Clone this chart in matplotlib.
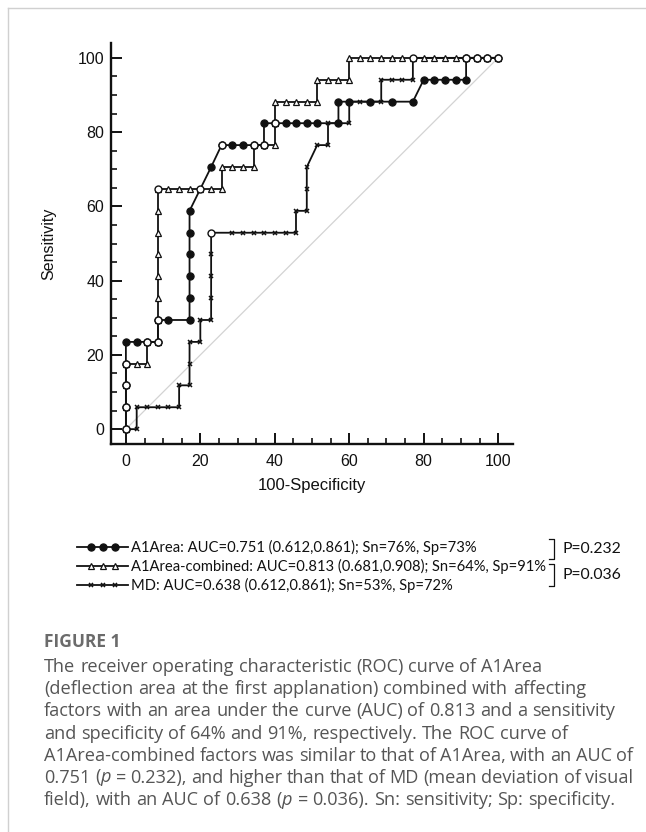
import matplotlib
matplotlib.use("Agg")
import matplotlib.pyplot as plt
from matplotlib.lines import Line2D

W, H, DPI = 646, 832, 100

# ---------------- data (percent) ----------------
a1_x = [0, 0, 0, 0, 0, 2.9, 5.7, 8.6, 8.6, 11.4, 17.1, 17.1, 17.1, 17.1, 17.1, 17.1,
        22.9, 25.7, 28.6, 31.4, 34.3, 37.1, 37.1, 40.0, 42.9, 45.7, 48.6, 51.4, 57.1,
        57.1, 60.0, 65.7, 71.4, 77.1, 80.0, 82.9, 85.7, 88.6, 91.4, 91.4, 94.3, 97.1, 100]
a1_y = [0, 5.9, 11.8, 17.6, 23.5, 23.5, 23.5, 23.5, 29.4, 29.4, 29.4, 35.3, 41.2, 47.1, 52.9, 58.8,
        70.6, 76.5, 76.5, 76.5, 76.5, 76.5, 82.4, 82.4, 82.4, 82.4, 82.4, 82.4, 82.4,
        88.2, 88.2, 88.2, 88.2, 88.2, 94.1, 94.1, 94.1, 94.1, 94.1, 100, 100, 100, 100]

comb_x = [0, 0, 0, 0, 2.9, 5.7, 5.7, 8.6, 8.6, 8.6, 8.6, 8.6, 8.6, 8.6, 8.6,
          11.4, 14.3, 17.1, 20.0, 22.9, 25.7, 25.7, 28.6, 31.4, 34.3, 34.3, 37.1, 40.0,
          40.0, 40.0, 42.9, 45.7, 48.6, 51.4, 51.4, 54.3, 57.1, 60.0, 60.0,
          62.9, 65.7, 68.6, 71.4, 74.3, 77.1, 80.0, 82.9, 85.7, 88.6, 91.4, 94.3, 97.1, 100]
comb_y = [0, 5.9, 11.8, 17.6, 17.6, 17.6, 23.5, 23.5, 29.4, 35.3, 41.2, 47.1, 52.9, 58.8, 64.7,
          64.7, 64.7, 64.7, 64.7, 64.7, 64.7, 70.6, 70.6, 70.6, 70.6, 76.5, 76.5, 76.5,
          82.4, 88.2, 88.2, 88.2, 88.2, 88.2, 94.1, 94.1, 94.1, 94.1, 100,
          100, 100, 100, 100, 100, 100, 100, 100, 100, 100, 100, 100, 100, 100]

md_x = [0, 2.9, 2.9, 5.7, 8.6, 11.4, 14.3, 14.3, 17.1, 17.1, 17.1, 20.0, 20.0, 22.9,
        22.9, 22.9, 22.9, 22.9, 28.6, 31.4, 34.3, 37.1, 40.0, 42.9, 45.7, 45.7, 48.6,
        48.6, 48.6, 51.4, 54.3, 54.3, 60.0, 60.0, 62.9, 68.6, 68.6, 71.4, 74.3, 77.1, 77.1, 100]
md_y = [0, 0, 5.9, 5.9, 5.9, 5.9, 5.9, 11.8, 11.8, 17.6, 23.5, 23.5, 29.4, 29.4,
        35.3, 41.2, 47.1, 52.9, 52.9, 52.9, 52.9, 52.9, 52.9, 52.9, 52.9, 58.8, 58.8,
        64.7, 70.6, 76.5, 76.5, 82.4, 82.4, 88.2, 88.2, 88.2, 94.1, 94.1, 94.1, 94.1, 100, 100]

open_x = [0, 0, 0, 0, 5.7, 8.6, 8.6, 8.6, 20.0, 22.9, 25.7, 34.3, 37.1, 40.0, 77.1, 91.4, 94.3, 97.1, 100]
open_y = [0, 5.9, 11.8, 17.6, 23.5, 23.5, 29.4, 64.7, 64.7, 52.9, 76.5, 76.5, 76.5, 82.4, 100, 100, 100, 100, 100]

ticks = [0, 20, 40, 60, 80, 100]
x_label = "100-Specificity"
y_label = "Sensitivity"

legend_labels = ["A1Area: AUC=0.751 (0.612,0.861); Sn=76%, Sp=73%",
                 "A1Area-combined: AUC=0.813 (0.681,0.908); Sn=64%, Sp=91%",
                 "MD: AUC=0.638 (0.612,0.861); Sn=53%, Sp=72%"]
p_labels = ["P=0.232", "P=0.036"]

caption_title = "FIGURE 1"
caption_lines = [
    "The receiver operating characteristic (ROC) curve of A1Area",
    "(deflection area at the first applanation) combined with affecting",
    "factors with an area under the curve (AUC) of 0.813 and a sensitivity",
    "and specificity of 64% and 91%, respectively. The ROC curve of",
    "A1Area-combined factors was similar to that of A1Area, with an AUC of",
    "0.751 ($\\mathit{p}$ = 0.232), and higher than that of MD (mean deviation of visual",
    "field), with an AUC of 0.638 ($\\mathit{p}$ = 0.036). Sn: sensitivity; Sp: specificity.",
]

# ---------------- figure ----------------
plt.rcParams["mathtext.fontset"] = "custom"
plt.rcParams["mathtext.it"] = "Open Sans:italic"
plt.rcParams["mathtext.rm"] = "Open Sans"

fig = plt.figure(figsize=(W / DPI, H / DPI), dpi=DPI)
fig.patch.set_facecolor("white")


def fx(px):
    return px / W


def fy(py):
    return 1 - py / H


# panel border (top and left)
fig.add_artist(Line2D([fx(8), 1], [fy(8), fy(8)], color="#d0d0d0", lw=1.0))
fig.add_artist(Line2D([fx(8), fx(8)], [fy(8), 0], color="#d0d0d0", lw=1.0))

# axes: spine left at px 111, right end 513; bottom spine py 444, top 43
ax = fig.add_axes([fx(111), fy(444), (513 - 111) / W, (444 - 43) / H])
ax.set_xlim(-4, 104)
ax.set_ylim(-4, 104)
for s in ["top", "right"]:
    ax.spines[s].set_visible(False)
for s in ["left", "bottom"]:
    ax.spines[s].set_linewidth(1.7)
    ax.spines[s].set_color("#111111")
ax.set_facecolor("none")

ax.set_xticks(ticks)
ax.set_yticks(ticks)
ax.set_xticks(range(0, 101, 5), minor=True)
ax.set_yticks(range(0, 101, 5), minor=True)
ax.tick_params(which="major", direction="in", length=8, width=1.4, color="#111111",
               labelsize=11.5, pad=7)
ax.tick_params(which="minor", direction="in", length=4.3, width=1.2, color="#111111")
ax.tick_params(axis="y", which="major", pad=5)
for lab in ax.get_xticklabels() + ax.get_yticklabels():
    lab.set_fontfamily("Liberation Sans")
    lab.set_color("#111111")

ax.set_xlabel(x_label, fontsize=12, family="Liberation Sans", labelpad=7, color="#111111")
ax.set_ylabel(y_label, fontsize=11.5, family="Liberation Sans", labelpad=15, color="#111111")

# diagonal reference
ax.plot([0, 100], [0, 100], color="#d3d3d3", lw=0.9, zorder=1)

lc = "#111111"
ax.plot(md_x, md_y, color=lc, lw=1.3, marker="x", ms=3.4, mew=1.1, mec=lc, zorder=3)
ax.plot(comb_x, comb_y, color=lc, lw=1.3, marker="^", ms=4.6, mew=0.9, mec=lc, mfc="white", zorder=4)
ax.plot(a1_x, a1_y, color=lc, lw=1.3, marker="o", ms=5.2, mew=0.8, mec=lc, mfc=lc, zorder=5)
ax.plot(open_x, open_y, ls="none", marker="o", ms=5.0, mew=1.0, mec=lc, mfc="white", zorder=6,
        clip_on=False)

# ---------------- legend ----------------
leg_y = [547, 566, 585]
leg_styles = [dict(marker="o", ms=5.2, mfc=lc, mew=0.8),
              dict(marker="^", ms=4.6, mfc="white", mew=0.9),
              dict(marker="x", ms=3.4, mfc=lc, mew=1.1)]
for yy, lab, st in zip(leg_y, legend_labels, leg_styles):
    fig.add_artist(Line2D([fx(77), fx(128)], [fy(yy), fy(yy)], color=lc, lw=1.3))
    fig.add_artist(Line2D([fx(91), fx(103), fx(115)], [fy(yy)] * 3, ls="none", mec=lc, **st))
    fig.text(fx(131), fy(yy), lab, family="Lato", fontsize=10.6, va="center", ha="left",
             color="#111111")

# brackets
for (y0, y1, lab) in [(539, 559, p_labels[0]), (564, 586, p_labels[1])]:
    fig.add_artist(Line2D([fx(549), fx(554), fx(554), fx(549)],
                          [fy(y0), fy(y0), fy(y1), fy(y1)], color=lc, lw=0.9))
    fig.text(fx(563), fy((y0 + y1) / 2), lab, family="Lato", fontsize=11.3, va="center",
             ha="left", color="#111111")

# ---------------- caption ----------------
fig.text(fx(44), fy(642), caption_title, family="Open Sans", fontweight="bold",
         fontsize=12.5, color="#6b6b6b", va="center", ha="left")

renderer = fig.canvas.get_renderer()
cap_kw = dict(family="Open Sans", fontsize=13.1, color="#555555", va="center", ha="left")
x_left, x_right = 44, 633
probe1 = fig.text(0, 0, "x x", **cap_kw)
probe2 = fig.text(0, 0, "xx", **cap_kw)
space_w = probe1.get_window_extent(renderer).width - probe2.get_window_extent(renderer).width
probe1.remove()
probe2.remove()

for i, line in enumerate(caption_lines):
    yy = 667 + i * 22.2
    words = line.split(" ")
    texts = [fig.text(0, fy(yy), w, **cap_kw) for w in words]
    widths = [t.get_window_extent(renderer).width for t in texts]
    natural = sum(widths) + space_w * (len(words) - 1)
    gap = space_w
    if natural > (x_right - x_left) and len(words) > 1:
        gap = (x_right - x_left - sum(widths)) / (len(words) - 1)
    x = x_left
    for t, w in zip(texts, widths):
        t.set_x(fx(x))
        x += w + gap

fig.savefig("out.png", dpi=DPI, facecolor="white")
